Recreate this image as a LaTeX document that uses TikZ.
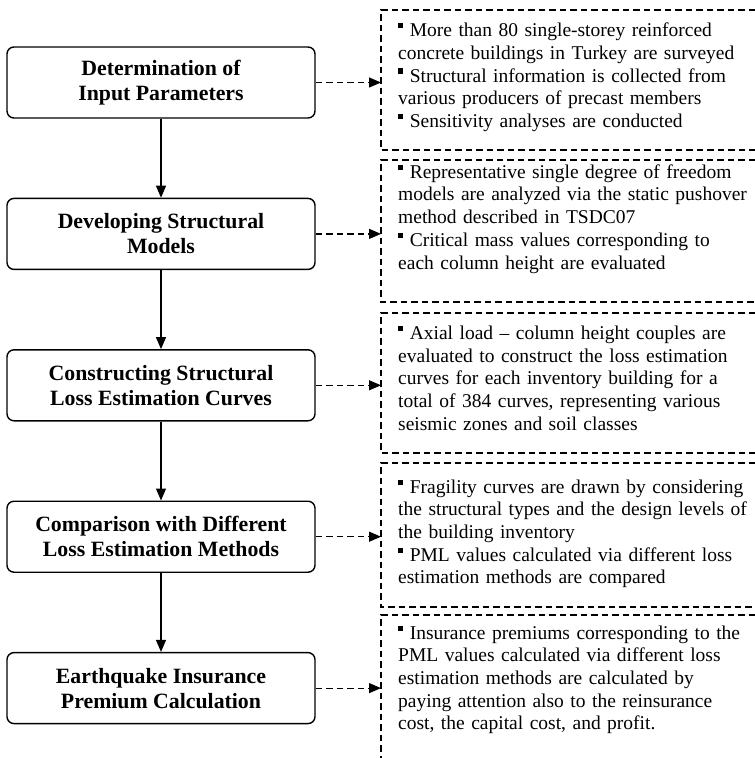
\documentclass[tikz,border=0pt]{standalone}
\usepackage{fontspec}
\setmainfont{Liberation Serif}
\usetikzlibrary{arrows.meta}
\newcommand{\bul}{\rule[0.44em]{0.26em}{0.26em}}
\newcommand{\jl}[1]{\makebox[350bp][s]{#1}}
\begin{document}
\begin{tikzpicture}[x=1bp,y=-1bp,
  stepbox/.style={draw, line width=1.4bp, rounded corners=7bp, minimum width=308bp,
    minimum height=71bp, align=center, inner sep=0pt,
    font=\fontsize{21.8bp}{25bp}\selectfont\bfseries},
  infotext/.style={anchor=north west, text width=350bp, align=left, inner sep=0pt,
    font=\fontsize{19.5bp}{22.7bp}\selectfont},
  dbox/.style={line width=1.1bp, dash pattern=on 6.5bp off 4bp},
  flow/.style={line width=1.2bp, -{Triangle[length=12bp,width=10bp]}},
  link/.style={line width=1.2bp, dash pattern=on 6.5bp off 4bp, -{Triangle[length=12bp,width=10bp]}}
]
\useasboundingbox (0,0) rectangle (755,758);

% left step boxes
\node[stepbox] (b1) at (161,82.5) {Determination of\\Input Parameters};
\node[stepbox] (b2) at (161,233.9) {Developing Structural\\Models};
\node[stepbox] (b3) at (161,385.3) {Constructing Structural\\Loss Estimation Curves};
\node[stepbox] (b4) at (161,536.7) {Comparison with Different\\Loss Estimation Methods};
\node[stepbox] (b5) at (161,688.1) {Earthquake Insurance\\Premium Calculation};

% dashed boxes (open to the right)
\draw[dbox] (755,10) -- (381,10) -- (381,150) -- (755,150);
\draw[dbox] (755,160) -- (381,160) -- (381,302) -- (755,302);
\draw[dbox] (755,313) -- (381,313) -- (381,453) -- (755,453);
\draw[dbox] (755,463) -- (381,463) -- (381,607) -- (755,607);
\draw[dbox] (755,615) -- (381,615) -- (381,758);

\coordinate (d1) at (381,82.5);
\coordinate (d2) at (381,233.9);
\coordinate (d3) at (381,385.3);
\coordinate (d4) at (381,536.7);
\coordinate (d5) at (381,688.1);

% texts
\node[infotext] (t1) at (398,22.8) {%
\jl{\bul{} More than 80 single-storey reinforced}\\
concrete buildings in Turkey are surveyed\\
\jl{\bul{} Structural information is collected from}\\
various producers of precast members\\
\bul{} Sensitivity analyses are conducted};

\node[infotext] (t2) at (398,164.3) {%
\jl{\bul{} Representative single degree of freedom}\\
\jl{models are analyzed via the static pushover}\\
method described in TSDC07\\
\jl{\bul{} Critical mass values corresponding to}\\
each column height are evaluated};

\node[infotext] (t3) at (398,325.6) {%
\jl{\bul{} Axial load -- column height couples are}\\
\jl{evaluated to construct the loss estimation}\\
\jl{curves for each inventory building for a}\\
\jl{total of 384 curves, representing various}\\
seismic zones and soil classes};

\node[infotext] (t4) at (398,479.3) {%
\jl{\bul{} Fragility curves are drawn by considering}\\
\jl{the structural types and the design levels of}\\
the building inventory\\
\jl{\bul{} PML values calculated via different loss}\\
estimation methods are compared};

\node[infotext] (t5) at (398,625.3) {%
\jl{\bul{} Insurance premiums corresponding to the}\\
\jl{PML values calculated via different loss}\\
\jl{estimation methods are calculated by}\\
\jl{paying attention also to the reinsurance}\\
cost, the capital cost, and profit.};

% connectors
\draw[flow] (b1) -- (b2);
\draw[flow] (b2) -- (b3);
\draw[flow] (b3) -- (b4);
\draw[flow] (b4) -- (b5);
\draw[link] (b1.east) -- (d1);
\draw[link] (b2.east) -- (d2);
\draw[link] (b3.east) -- (d3);
\draw[link] (b4.east) -- (d4);
\draw[link] (b5.east) -- (d5);
\end{tikzpicture}
\end{document}
